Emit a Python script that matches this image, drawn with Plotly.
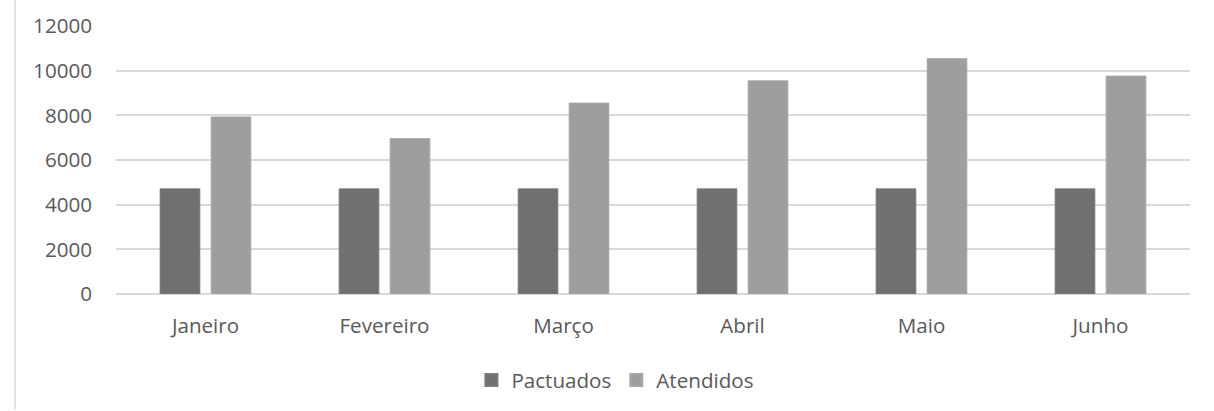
import plotly.graph_objects as go

months = ["Janeiro", "Fevereiro", "Março", "Abril", "Maio", "Junho"]
pactuados = [4710, 4710, 4710, 4710, 4710, 4710]
atendidos = [7930, 6960, 8550, 9550, 10540, 9760]
y_ticks = [0, 2000, 4000, 6000, 8000, 10000, 12000]
y_tick_labels = ["0", "2000", "4000", "6000", "8000", "10000", "12000"]

FONT = "Open Sans"
TXT = "#595959"
FS = 20.6

fig = go.Figure()
fig.add_trace(go.Bar(x=months, y=pactuados, name="Pactuados",
                     marker=dict(color="#707070", line=dict(color="#7a7a7a", width=0.8))))
fig.add_trace(go.Bar(x=months, y=atendidos, name="Atendidos",
                     marker=dict(color="#9e9e9e", line=dict(color="#a8a8a8", width=0.8))))

fig.update_layout(
    width=1214, height=411,
    margin=dict(l=116, r=24, t=26, b=116),
    paper_bgcolor="white", plot_bgcolor="white",
    barmode="group", bargap=0.43, bargroupgap=0.22,
    font=dict(family=FONT, size=FS, color=TXT),
    showlegend=True,
    legend=dict(orientation="h", x=0.465, xanchor="center", y=-0.316, yanchor="middle",
                font=dict(family=FONT, size=FS, color=TXT), traceorder="normal",
                itemwidth=30, itemsizing="constant"),
    shapes=[dict(type="line", xref="paper", yref="paper",
                 x0=-0.094, x1=-0.094, y0=-116/269, y1=1 + 26/269,
                 line=dict(color="#d9d9d9", width=1.5))],
)
fig.update_xaxes(showgrid=False, showline=False, ticks="", ticklabelstandoff=17,
                 tickfont=dict(family=FONT, size=FS, color=TXT))
fig.update_yaxes(range=[0, 12000], tickvals=y_ticks, ticktext=y_tick_labels,
                 showgrid=True, gridcolor="#d9d9d9",
                 gridwidth=1.5, zeroline=True, zerolinecolor="#d9d9d9", zerolinewidth=1.5,
                 showline=False, ticks="", ticklabelstandoff=23,
                 tickfont=dict(family=FONT, size=FS, color=TXT))

fig.write_html("out.html")
